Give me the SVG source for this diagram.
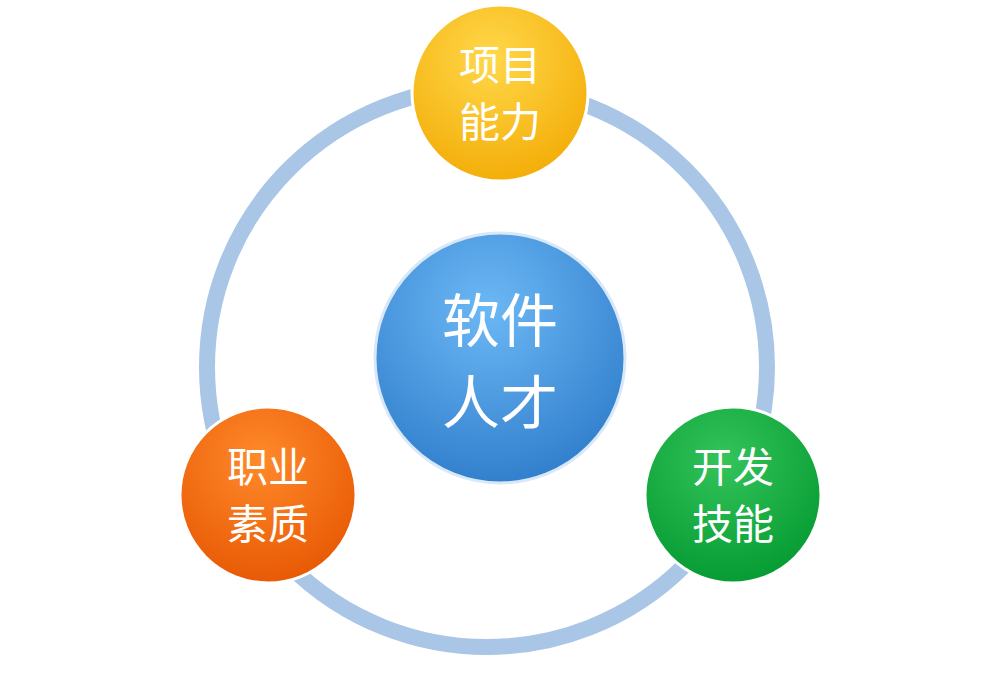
<svg xmlns="http://www.w3.org/2000/svg" width="1002" height="674" viewBox="0 0 1002 674">
<defs>
<radialGradient id="gc" cx="0.45" cy="0.3" r="0.8"><stop offset="0" stop-color="#6cb8f5"/><stop offset="1" stop-color="#2a78c8"/></radialGradient>
<radialGradient id="gy" cx="0.45" cy="0.3" r="0.8"><stop offset="0" stop-color="#ffd84a"/><stop offset="1" stop-color="#f2a800"/></radialGradient>
<radialGradient id="go" cx="0.45" cy="0.3" r="0.8"><stop offset="0" stop-color="#ff8a2a"/><stop offset="1" stop-color="#e55300"/></radialGradient>
<radialGradient id="gg" cx="0.45" cy="0.3" r="0.8"><stop offset="0" stop-color="#33c45a"/><stop offset="1" stop-color="#00962e"/></radialGradient>
<style>.t{font-family:"Noto Sans CJK SC",sans-serif;fill:#fff;text-anchor:middle}.s{font-size:41px}.b{font-size:58px}.c{stroke:#fff;stroke-width:3}</style>
</defs>
<g id="connectors"><circle cx="487" cy="367" r="280" fill="none" stroke="#a9c6e6" stroke-width="16"/></g>
<g id="center"><circle cx="500" cy="358" r="125" fill="url(#gc)" stroke="#d8e8f6" stroke-width="3"/><text class="t b" x="500" y="342">软件</text><text class="t b" x="500" y="424">人才</text></g>
<g id="top"><circle cx="500" cy="93" r="88" fill="url(#gy)" class="c"/><text class="t s" x="500" y="80">项目</text><text class="t s" x="500" y="137">能力</text></g>
<g id="left"><circle cx="268" cy="495" r="88" fill="url(#go)" class="c"/><text class="t s" x="268" y="482">职业</text><text class="t s" x="268" y="539">素质</text></g>
<g id="right"><circle cx="733" cy="495" r="88" fill="url(#gg)" class="c"/><text class="t s" x="733" y="482">开发</text><text class="t s" x="733" y="539">技能</text></g>
</svg>
